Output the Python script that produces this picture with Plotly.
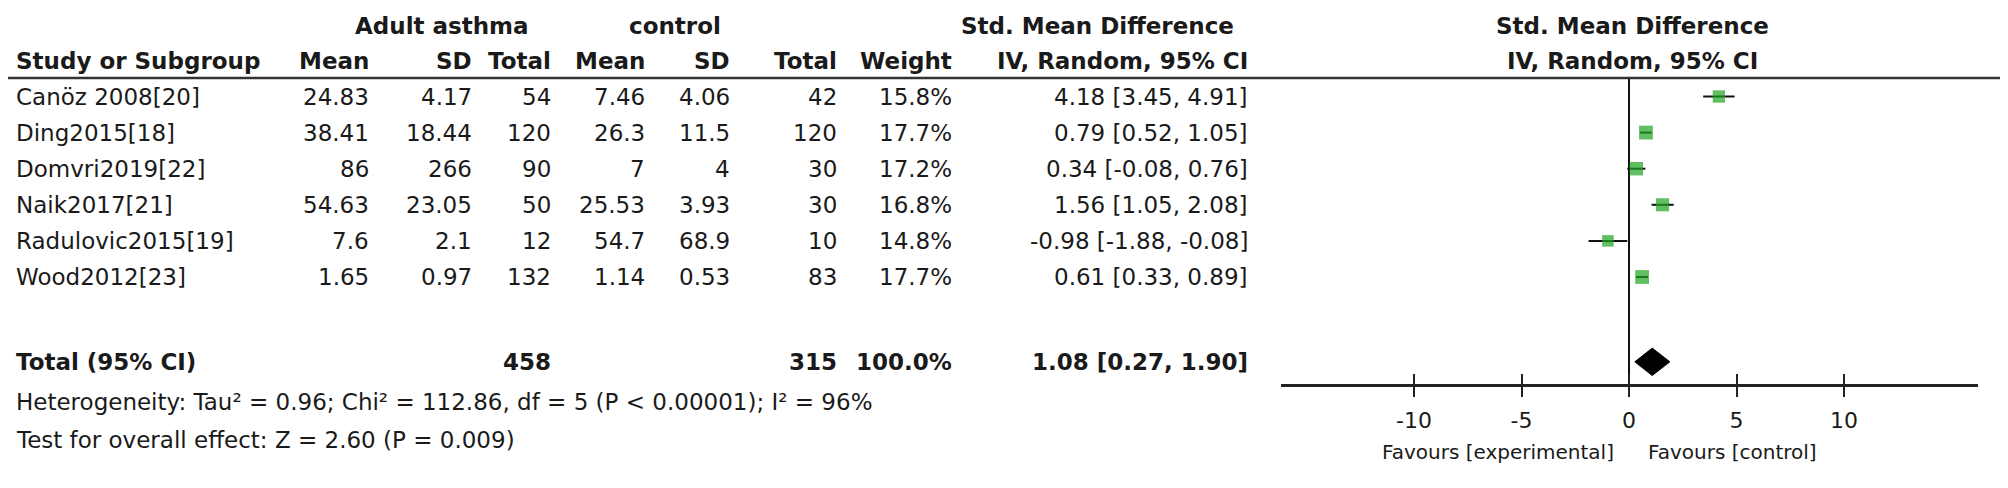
import plotly.graph_objects as go

# ---------------- data ----------------
studies = ["Canöz 2008[20]", "Ding2015[18]", "Domvri2019[22]", "Naik2017[21]",
           "Radulovic2015[19]", "Wood2012[23]"]
exp_mean = ["24.83", "38.41", "86", "54.63", "7.6", "1.65"]
exp_sd = ["4.17", "18.44", "266", "23.05", "2.1", "0.97"]
exp_total = ["54", "120", "90", "50", "12", "132"]
ctl_mean = ["7.46", "26.3", "7", "25.53", "54.7", "1.14"]
ctl_sd = ["4.06", "11.5", "4", "3.93", "68.9", "0.53"]
ctl_total = ["42", "120", "30", "30", "10", "83"]
weights = [15.8, 17.7, 17.2, 16.8, 14.8, 17.7]
smd = [4.18, 0.79, 0.34, 1.56, -0.98, 0.61]
ci_lo = [3.45, 0.52, -0.08, 1.05, -1.88, 0.33]
ci_hi = [4.91, 1.05, 0.76, 2.08, -0.08, 0.89]

total_label = "Total (95% CI)"
total_exp_n = "458"
total_ctl_n = "315"
total_weight = "100.0%"
pooled = 1.08
pooled_lo = 0.27
pooled_hi = 1.90
heterogeneity = "Heterogeneity: Tau² = 0.96; Chi² = 112.86, df = 5 (P < 0.00001); I² = 96%"
overall = "Test for overall effect: Z = 2.60 (P = 0.009)"
tick_vals = [-10, -5, 0, 5, 10]
tick_text = ["-10", "-5", "0", "5", "10"]
favours_left = "Favours [experimental]"
favours_right = "Favours [control]"

# ---------------- layout helpers ----------------
PAGE_W, PAGE_H = 2008, 488
BODY = 8                                  # default browser body margin
W, H = PAGE_W - 2 * BODY, PAGE_H - 2 * BODY
FONT = "DejaVu Sans, Verdana, sans-serif"
TXT = "#1a1a1a"
GREEN = "#1fa31f"
FS = 23


def px(x):      # page pixel -> paper x
    return (x - BODY) / W


def py(y):      # page pixel -> paper y
    return 1 - (y - BODY) / H


row_px0, row_step = 96.5, 36.1       # page pixel centre of first row, row pitch
top_px, axis_px = 78.0, 384.0        # header rule / x-axis line
zero_px, unit_px = 1629.0, 21.5      # x = 0 position and pixels per unit
left_px, right_px = 1281.0, 1978.0
total_row = 7.35
diamond_half = 0.38

y_top = (top_px - row_px0) / row_step
y_bot = (axis_px - row_px0) / row_step
x_min = (left_px - zero_px) / unit_px
x_max = (right_px - zero_px) / unit_px

rows = list(range(len(studies)))

fig = go.Figure()

# study estimates with CI
fig.add_trace(go.Scatter(
    x=smd, y=rows, mode="markers",
    marker=dict(symbol="square", size=[w * 0.78 for w in weights], color=GREEN,
                line=dict(width=0)),
    error_x=dict(type="data", symmetric=False,
                 array=[h - m for h, m in zip(ci_hi, smd)],
                 arrayminus=[m - l for m, l in zip(smd, ci_lo)],
                 color="#111111", thickness=2, width=0),
    hoverinfo="skip", showlegend=False, cliponaxis=False,
))

# pooled diamond
fig.add_trace(go.Scatter(
    x=[pooled_lo, pooled, pooled_hi, pooled, pooled_lo],
    y=[total_row, total_row - diamond_half, total_row, total_row + diamond_half, total_row],
    mode="lines", fill="toself", fillcolor="#000000",
    line=dict(color="#000000", width=1), hoverinfo="skip", showlegend=False,
))

# invisible trace on overlay axis so its ticks are drawn
fig.add_trace(go.Scatter(x=[0], y=[0], xaxis="x2", mode="markers",
                         marker=dict(opacity=0), hoverinfo="skip", showlegend=False))

ann = []


def add(text, x, y, anchor, bold=False, yref="paper", size=FS):
    ann.append(dict(text=f"<b>{text}</b>" if bold else text, x=px(x), y=y,
                    xref="paper", yref=yref, xanchor=anchor, yanchor="middle",
                    showarrow=False,
                    font=dict(family=FONT, size=size, color=TXT)))


LEFT = 14
# header row 1
add("Adult asthma", 442, py(26), "center", bold=True)
add("control", 675, py(26), "center", bold=True)
add("Std. Mean Difference", 1097, py(26), "center", bold=True)
add("Std. Mean Difference", zero_px + 3, py(26), "center", bold=True)
# header row 2
add("Study or Subgroup", LEFT, py(61), "left", bold=True)
col_right = [371, 474, 553, 647, 732, 839, 954, 1250]
for label, xr in zip(["Mean", "SD", "Total", "Mean", "SD", "Total", "Weight",
                      "IV, Random, 95% CI"], col_right):
    add(label, xr, py(61), "right", bold=True)
add("IV, Random, 95% CI", zero_px + 3, py(61), "center", bold=True)

# study rows
for i in rows:
    add(studies[i], LEFT, i, "left", yref="y")
    vals = [exp_mean[i], exp_sd[i], exp_total[i], ctl_mean[i], ctl_sd[i], ctl_total[i],
            f"{weights[i]:.1f}%", f"{smd[i]:.2f} [{ci_lo[i]:.2f}, {ci_hi[i]:.2f}]"]
    for v, xr in zip(vals, col_right):
        add(v, xr, i, "right", yref="y")

# total row
add(total_label, LEFT, total_row, "left", bold=True, yref="y")
add(total_exp_n, col_right[2], total_row, "right", bold=True, yref="y")
add(total_ctl_n, col_right[5], total_row, "right", bold=True, yref="y")
add(total_weight, col_right[6], total_row, "right", bold=True, yref="y")
add(f"{pooled:.2f} [{pooled_lo:.2f}, {pooled_hi:.2f}]", col_right[7], total_row, "right",
    bold=True, yref="y")

add(heterogeneity, LEFT, py(402), "left")
add(overall, LEFT, py(440), "left")

add(favours_left, 1616, py(452), "right", size=20)
add(favours_right, 1646, py(452), "left", size=20)

fig.update_layout(
    width=W, height=H, autosize=False,
    margin=dict(l=0, r=0, t=0, b=0),
    paper_bgcolor="white", plot_bgcolor="white",
    annotations=ann,
    shapes=[dict(type="line", xref="paper", yref="paper", x0=px(6), x1=px(2000),
                 y0=py(top_px), y1=py(top_px), line=dict(color="#333333", width=2.5))],
    xaxis=dict(domain=[px(left_px), px(right_px)], range=[x_min, x_max], anchor="y",
               showgrid=False, zeroline=True, zerolinecolor="#111111", zerolinewidth=1.5,
               showline=True, linecolor="#222222", linewidth=2.5,
               ticks="outside", ticklen=10, tickwidth=2, tickcolor="#222222",
               tickvals=tick_vals, ticktext=tick_text, ticklabelstandoff=5,
               tickfont=dict(family=FONT, size=22, color=TXT), fixedrange=True),
    xaxis2=dict(overlaying="x", anchor="y", range=[x_min, x_max], showgrid=False,
                zeroline=False, showline=False, ticks="inside", ticklen=10, tickwidth=2,
                tickcolor="#222222", tickvals=tick_vals, showticklabels=False, side="bottom"),
    yaxis=dict(domain=[py(axis_px), py(top_px)], range=[y_bot, y_top], showgrid=False,
               zeroline=False, showline=False, showticklabels=False, ticks="",
               fixedrange=True),
)

fig.write_html("out.html")
